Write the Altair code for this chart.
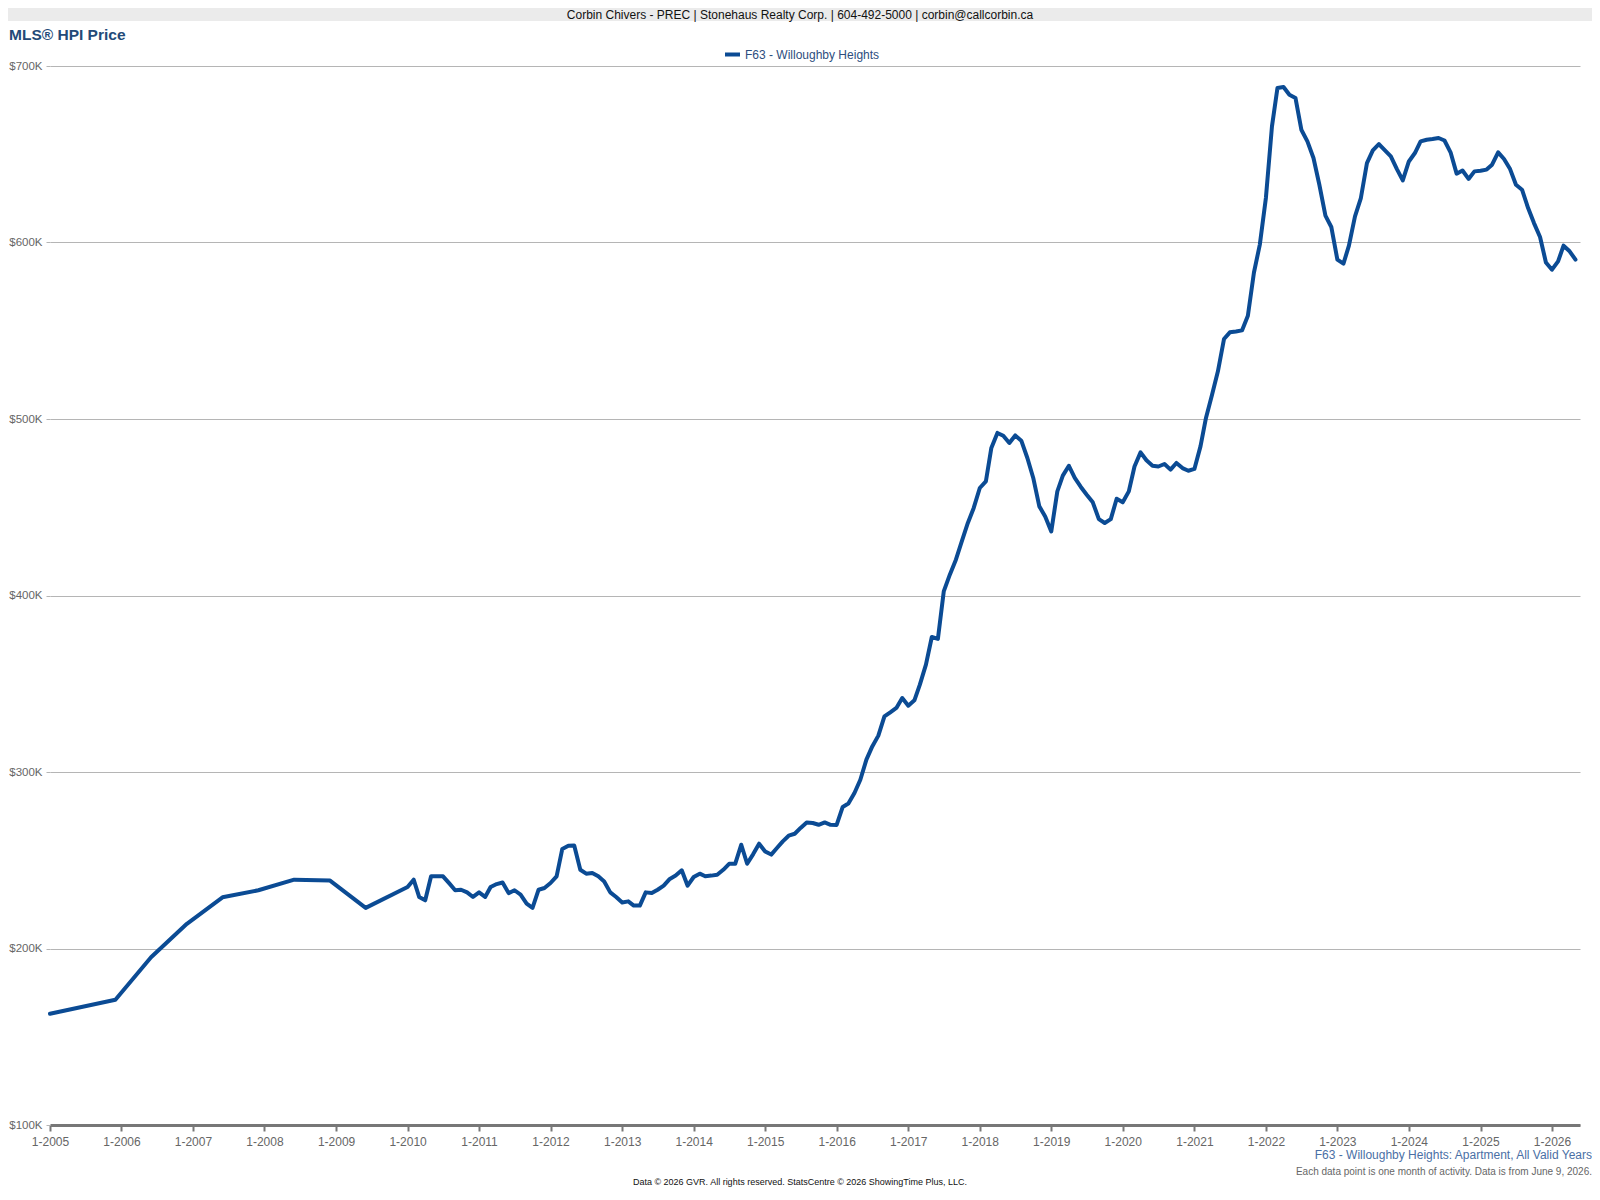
import altair as alt
import pandas as pd

# ---- data (values in $K) ----
early_dates = ["2005-01-01", "2005-12-01", "2006-06-01", "2006-12-01", "2007-06-01",
               "2007-12-01", "2008-06-01", "2008-12-01", "2009-06-01"]
early_values = [163, 171, 195, 214, 229, 233, 239, 238.5, 223]

monthly_start = "2010-01-01"
monthly_values = [
    # 2010
    234.8, 239, 229.2, 227.3, 240.9, 241, 240.9, 237, 233, 233.3, 231.8, 229.2,
    # 2011
    231.8, 229.2, 234.8, 236.5, 237.4, 231.4, 233, 230.5, 225.4, 223, 233.3, 234.3,
    # 2012
    237.1, 240.9, 256.4, 258.2, 258.4, 244.6, 242.4, 242.8, 240.9, 238, 231.8, 229.2,
    # 2013
    226.1, 226.7, 224.3, 224.3, 231.8, 231.4, 233.3, 235.6, 239.4, 241.3, 244.3, 235.6,
    # 2014
    240.5, 242.4, 240.9, 241.3, 241.8, 244.6, 248, 248, 258.8, 248, 253.5, 259.4,
    # 2015
    255, 253.2, 256.8, 260.7, 263.9, 265, 268.3, 271.4, 271.1, 270.1, 271.4, 270.1,
    # 2016
    270, 280.2, 282.1, 288.1, 295.6, 307, 314.5, 320.6, 331.5, 333.8, 336.3, 341.9,
    # 2017
    337.6, 340.6, 349.5, 360.8, 376.5, 375.4, 402.3, 411.8, 420.3, 430.7, 441.1, 449.6,
    # 2018
    460.9, 464.6, 483.6, 492.1, 490.5, 486.4, 490.7, 487.7, 477.9, 466.6, 450.5, 444.8,
    # 2019
    436.3, 459, 467.9, 473.5, 466.6, 461.5, 457.1, 452.8, 443.3, 441.1, 443.3, 454.8,
    # 2020
    452.8, 459, 473.1, 481.1, 476.6, 473.5, 473.1, 474.5, 471.3, 475.1, 472.2, 470.7,
    # 2021
    471.7, 484.5, 500.6, 513.8, 527, 545.3, 549.1, 549.6, 550.2, 558.5, 583, 598.8,
    # 2022
    625.2, 665.8, 687.5, 688.1, 683.7, 681.9, 663.9, 657.3, 647.9, 632.7, 615.2, 608.8,
    # 2023
    590.3, 588, 598.2, 614.8, 625.2, 645, 652.2, 655.8, 652.2, 648.8, 641.6, 635.2,
    # 2024
    645.9, 650.7, 657.3, 658.2, 658.6, 659.2, 657.8, 651.1, 639, 640.8, 636, 640.3,
    # 2025
    640.7, 641.3, 644.1, 651.1, 647.3, 641.6, 632.7, 629.9, 619.5, 611, 603.1, 588.7,
    # 2026
    584.6, 589.3, 598.2, 595, 590.3,
]

series_name = "F63 - Willoughby Heights"
y_ticks = [100, 200, 300, 400, 500, 600, 700]
x_tick_years = list(range(2005, 2027))

header_text = "Corbin Chivers - PREC | Stonehaus Realty Corp. | 604-492-5000 | corbin@callcorbin.ca"
title_text = "MLS\u00ae HPI Price"
subtitle_text = "F63 - Willoughby Heights: Apartment, All Valid Years"
note_text = "Each data point is one month of activity. Data is from June 9, 2026."
footer_text = "Data \u00a9 2026 GVR. All rights reserved. StatsCentre \u00a9 2026 ShowingTime Plus, LLC."

monthly_dates = [d.strftime("%Y-%m-%d") for d in
                 pd.date_range(monthly_start, periods=len(monthly_values), freq="MS")]
df = pd.DataFrame({
    "date": early_dates + monthly_dates,
    "price": early_values + monthly_values,
    "series": series_name,
})

FONT = "Liberation Sans"
LINE_COLOR = "#0b4b94"
W, H = 1530, 1059
PAD = {"left": 42, "top": 58, "right": 12, "bottom": 63}
RIGHT = W + PAD["right"]  # view x of svg right edge
one = pd.DataFrame({"a": [0]})

x_enc = alt.X(
    "date:T",
    title=None,
    scale=alt.Scale(type="utc",
                    domain=[alt.DateTime(year=2005, month=1, date=1, utc=True),
                            alt.DateTime(year=2026, month=5, date=24, utc=True)]),
    axis=alt.Axis(
        values=[alt.DateTime(year=y, month=1, date=1, utc=True) for y in x_tick_years],
        labelExpr="'1-' + utcFormat(datum.value, '%Y')",
        grid=False, domainColor="#777777", domainWidth=3,
        tickColor="#777777", tickWidth=2, tickSize=6,
        labelColor="#666666", labelFontSize=12, labelFont=FONT, labelPadding=5,
        labelFlush=False, labelOverlap=False, labelBound=False,
    ),
)
y_enc = alt.Y(
    "price:Q",
    title=None,
    scale=alt.Scale(domain=[100, 700], nice=False, zero=False),
    axis=alt.Axis(
        values=y_ticks,
        labelExpr="'$' + datum.value + 'K'",
        grid=True, gridColor="#b5b5b5", gridWidth=1,
        domain=False, ticks=True, tickColor="#b5b5b5", tickSize=4,
        labelColor="#666666", labelFontSize=11.5, labelFont=FONT, labelPadding=4,
        labelFlush=False, labelOverlap=False,
    ),
)

line = alt.Chart(df).mark_line(strokeWidth=4, strokeJoin="round", strokeCap="round").encode(
    x=x_enc,
    y=y_enc,
    color=alt.Color(
        "series:N",
        scale=alt.Scale(range=[LINE_COLOR]),
        legend=alt.Legend(
            orient="none", legendX=673, legendY=-21, title=None,
            symbolType="stroke", symbolStrokeWidth=4, symbolSize=225,
            labelFontSize=12, labelFont=FONT, labelColor="#2d4e7e",
            padding=0, labelOffset=3,
        ),
    ),
)

header_bg = alt.Chart(one).mark_rect(color="#ebebeb").encode(
    x=alt.value(-PAD["left"]), x2=alt.value(RIGHT), y=alt.value(-58), y2=alt.value(-45)
)


def txt(text, x, y, size, color, align="left", baseline="middle", weight="normal"):
    return alt.Chart(one).mark_text(
        text=text, align=align, baseline=baseline, fontSize=size, font=FONT,
        color=color, fontWeight=weight,
    ).encode(x=alt.value(x), y=alt.value(y))


layers = [
    header_bg,
    line,
    txt(header_text, 750, -51.5, 12, "#111111", align="center"),
    txt(title_text, -41, -31, 15.5, "#234a78", weight="bold"),
    txt(subtitle_text, RIGHT, 1089, 12, "#4a6fa5", align="right"),
    txt(note_text, RIGHT, 1106, 10, "#666666", align="right"),
    txt(footer_text, 750, 1121, 9, "#111111", align="center", baseline="bottom"),
]

chart = alt.layer(*layers).properties(
    width=W, height=H, padding=PAD,
    autosize=alt.AutoSizeParams(type="none"),
    background="white",
).configure_view(stroke=None)

chart.save("out.html", embed_options={"renderer": "svg", "actions": False})
